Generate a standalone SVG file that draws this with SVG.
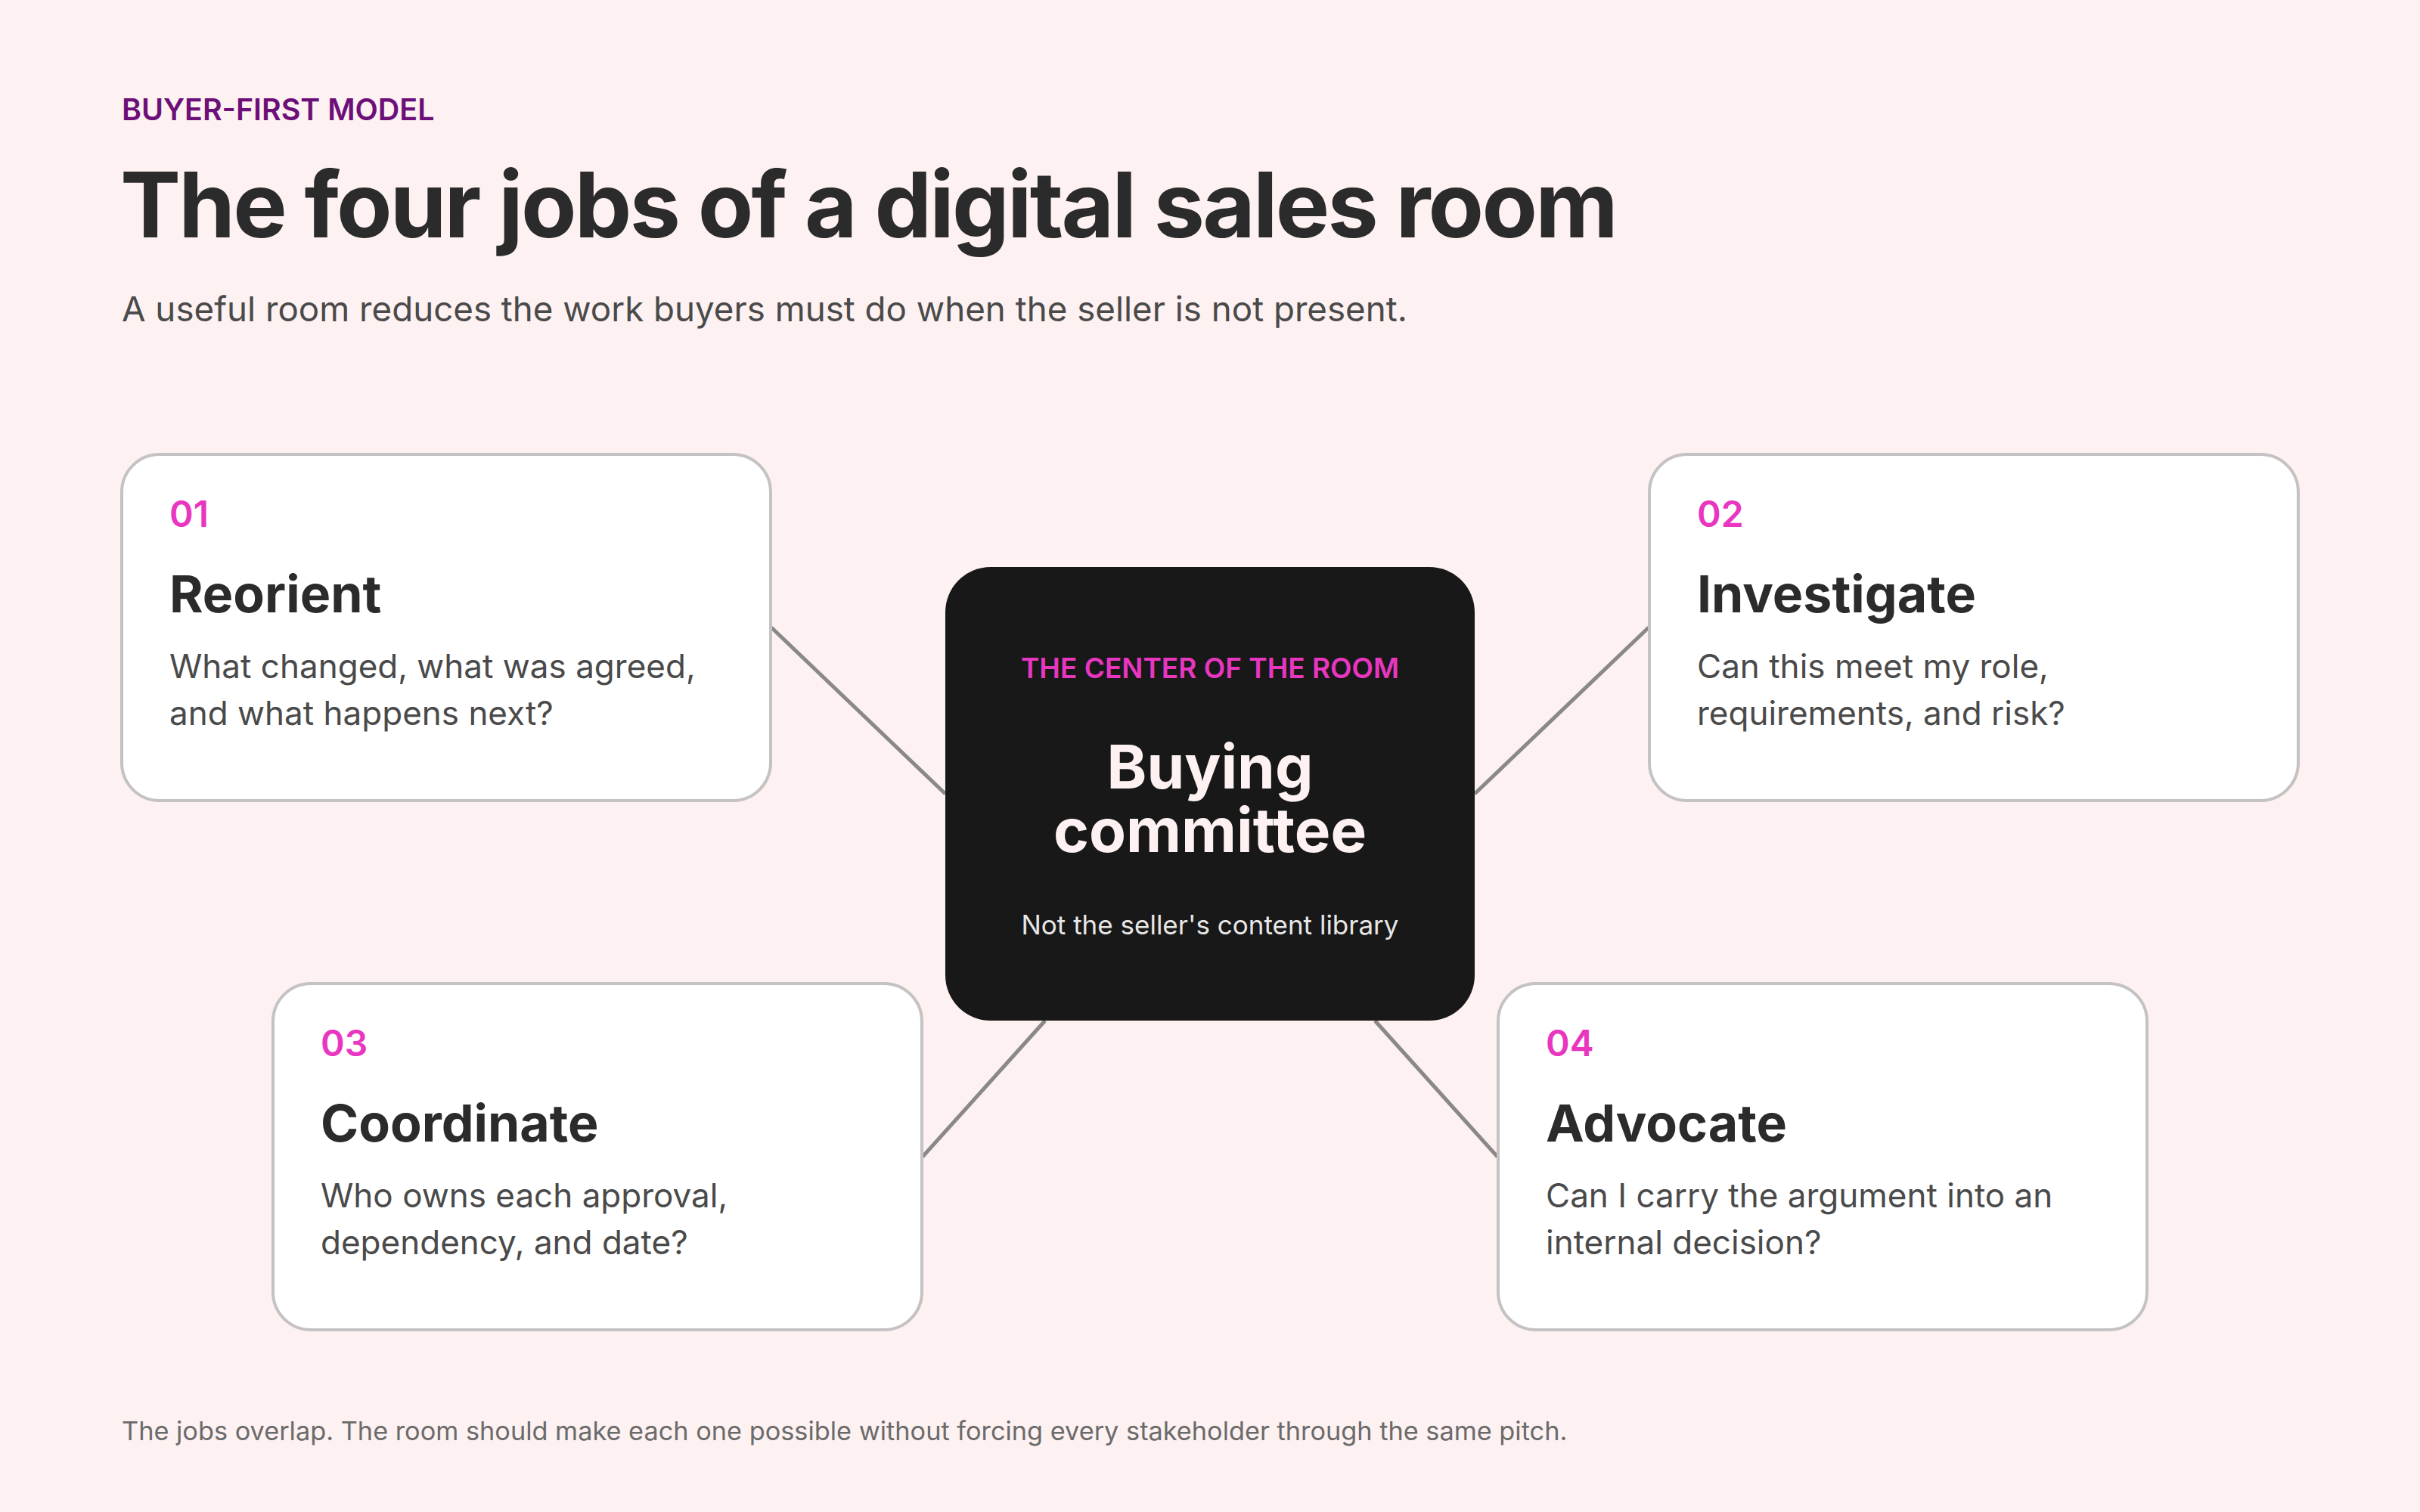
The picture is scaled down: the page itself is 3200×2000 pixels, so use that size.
<svg xmlns="http://www.w3.org/2000/svg" width="3200" height="2000" viewBox="0 0 3200 2000">
<style>
.bg{fill:#fdf1f1}
.card{fill:#ffffff;stroke:#c4c2c2;stroke-width:4}
.hub{fill:#181818}
.conn{stroke:#8a8888;stroke-width:5;fill:none}
text{font-family:Inter,"Noto Sans","Liberation Sans",sans-serif}
.eyebrow{font-size:39.4px;font-weight:600;fill:#6d0f78}
.title{font-size:120px;font-weight:700;fill:#2b2b2b;letter-spacing:-2.8px}
.sub{font-size:45.7px;font-weight:400;fill:#4a4a4a}
.num{font-size:48px;font-weight:600;fill:#e936c0}
.head{font-size:68px;font-weight:700;fill:#2b2b2b}
.body{font-size:44px;font-weight:400;fill:#4a4a4a}
.kicker{font-size:37px;font-weight:600;fill:#e936c0}
.hubtitle{font-size:80px;font-weight:700;fill:#fdf1f1}
.hubsub{font-size:35px;font-weight:400;fill:#e6e6e6}
.foot{font-size:34.3px;font-weight:400;fill:#6b6b6b}
</style>
<rect class="bg" x="0" y="0" width="3200" height="2000"/>
<text class="eyebrow" x="161" y="159">BUYER-FIRST MODEL</text>
<text class="title" x="159" y="314">The four jobs of a digital sales room</text>
<text class="sub" x="161" y="425">A useful room reduces the work buyers must do when the seller is not present.</text>
<g id="connectors">
<line class="conn" x1="1020" y1="830" x2="1250" y2="1050"/>
<line class="conn" x1="1950" y1="1050" x2="2180" y2="830"/>
<line class="conn" x1="1382" y1="1350" x2="1220" y2="1530"/>
<line class="conn" x1="1818" y1="1350" x2="1980" y2="1530"/>
</g>
<g id="node-reorient">
<rect class="card" x="161" y="601" width="858" height="458" rx="50"/>
<text class="num" x="224" y="697">01</text>
<text class="head" x="224" y="810">Reorient</text>
<text class="body" x="224" y="897">What changed, what was agreed,</text>
<text class="body" x="224" y="959">and what happens next?</text>
</g>
<g id="node-investigate">
<rect class="card" x="2181" y="601" width="858" height="458" rx="50"/>
<text class="num" x="2244" y="697">02</text>
<text class="head" x="2244" y="810">Investigate</text>
<text class="body" x="2244" y="897">Can this meet my role,</text>
<text class="body" x="2244" y="959">requirements, and risk?</text>
</g>
<g id="node-coordinate">
<rect class="card" x="361" y="1301" width="858" height="458" rx="50"/>
<text class="num" x="424" y="1397">03</text>
<text class="head" x="424" y="1510">Coordinate</text>
<text class="body" x="424" y="1597">Who owns each approval,</text>
<text class="body" x="424" y="1659">dependency, and date?</text>
</g>
<g id="node-advocate">
<rect class="card" x="1981" y="1301" width="858" height="458" rx="50"/>
<text class="num" x="2044" y="1397">04</text>
<text class="head" x="2044" y="1510">Advocate</text>
<text class="body" x="2044" y="1597">Can I carry the argument into an</text>
<text class="body" x="2044" y="1659">internal decision?</text>
</g>
<g id="node-center">
<rect class="hub" x="1250" y="750" width="700" height="600" rx="60"/>
<text class="kicker" x="1600" y="897" text-anchor="middle">THE CENTER OF THE ROOM</text>
<text class="hubtitle" x="1600" y="1043" text-anchor="middle">Buying</text>
<text class="hubtitle" x="1600" y="1127" text-anchor="middle">committee</text>
<text class="hubsub" x="1600" y="1236" text-anchor="middle">Not the seller's content library</text>
</g>
<text class="foot" x="161" y="1905">The jobs overlap. The room should make each one possible without forcing every stakeholder through the same pitch.</text>
</svg>
